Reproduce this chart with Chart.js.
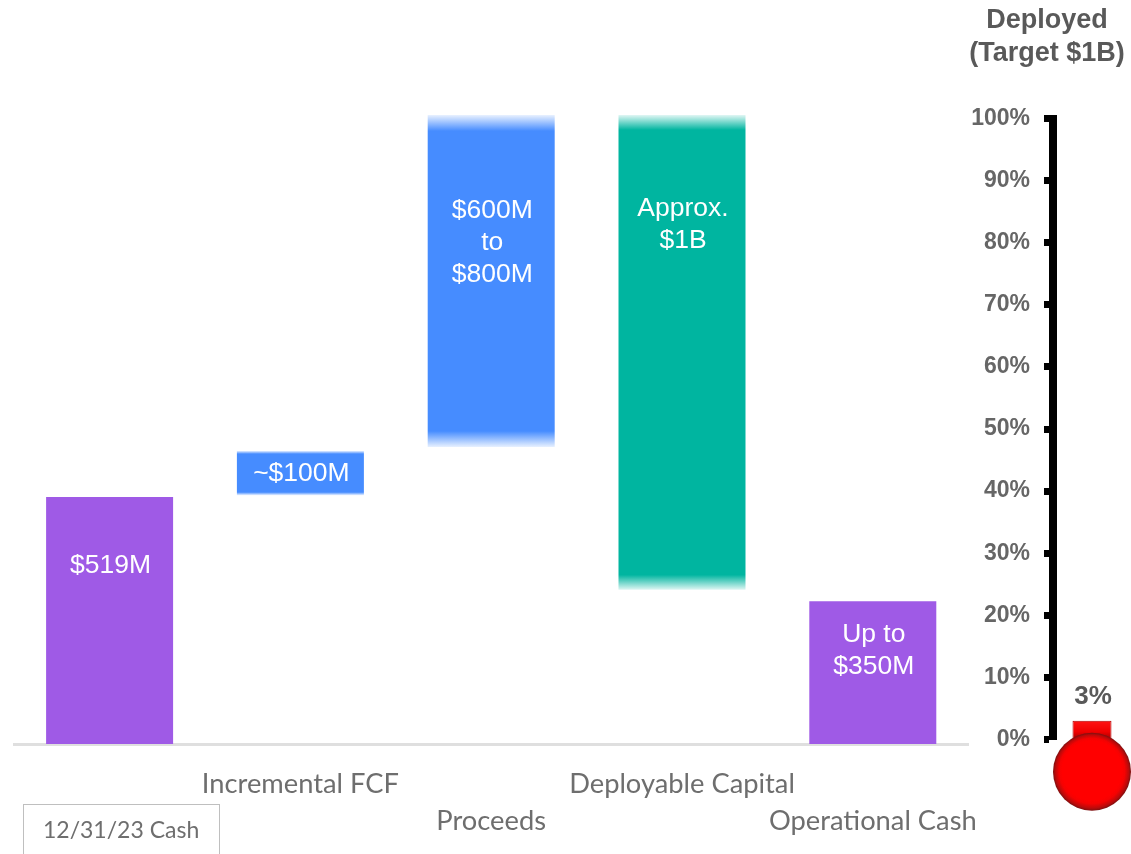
<!DOCTYPE html>
<html>
<head>
<meta charset="utf-8">
<style>
html,body{margin:0;padding:0;background:#fff;width:1131px;height:854px;overflow:hidden}
canvas{position:absolute;top:0}
#main{left:0}
#gauge{left:963px}
#cashBox{position:absolute;left:23px;top:804px;width:195px;height:60px;border:1px solid #bfbfbf;box-sizing:content-box}
</style>
</head>
<body>
<div id="cashBox"></div>
<canvas id="main" width="1131" height="854"></canvas>
<canvas id="gauge" width="168" height="854"></canvas>
<script src="https://cdn.jsdelivr.net/npm/chart.js@4"></script>
<script>
const categories = ['12/31/23 Cash', 'Incremental FCF', 'Proceeds', 'Deployable Capital', 'Operational Cash'];
const barLows = [0, 523, 624, 324, 0];
const barHighs = [519, 616, 1322, 1322, 300];
const barTexts = [['$519M'], ['~$100M'], ['$600M', 'to', '$800M'], ['Approx.', '$1B'], ['Up to', '$350M']];
const gaugeCategories = ['Deployed'];
const deployedPct = [3];
const bulbAnchorPct = [-5.2];
const deployedText = [['3%']];
const gaugeTitle = ['Deployed', '(Target $1B)'];

const barColors = ['#9F5AE6', '#468CFF', '#468CFF', '#00B5A0', '#9F5AE6'];
const fadePx = [0, 3, 16, 15, 0];
const labelDrop = [69, 23, 96, 94, 33];

const axisLabelFont = 'Lato, Carlito, sans-serif';
const arial = '"Liberation Sans", Arial, sans-serif';

function rgba(hex, a) {
  const n = parseInt(hex.slice(1), 16);
  return `rgba(${n >> 16},${(n >> 8) & 255},${n & 255},${a})`;
}

const textPlugin = {
  id: 'barText',
  afterDatasetsDraw(chart, args, opts) {
    const c = chart.ctx;
    const meta = chart.getDatasetMeta(0);
    c.save();
    c.font = opts.font;
    c.fillStyle = opts.color;
    c.textAlign = 'center';
    c.textBaseline = 'middle';
    meta.data.forEach((el, i) => {
      opts.lines[i].forEach((t, k) => {
        c.fillText(t, el.x + 1, el.y + opts.drop[i] + k * 32);
      });
    });
    c.restore();
  }
};

const cashLabelShift = {
  id: 'cashLabelShift',
  beforeDraw(chart) {
    const item = chart.scales.x.getLabelItems()[0];
    if (item && !item.shifted) {
      item.options.translation[0] += 11.5;
      item.shifted = true;
    }
  }
};

new Chart(document.getElementById('main'), {
  type: 'bar',
  plugins: [textPlugin, cashLabelShift],
  data: {
    labels: categories.map((t, i) => i % 2 === 1 ? t : ['', t]),
    datasets: [{
      data: barLows.map((v, i) => [v, barHighs[i]]),
      barPercentage: 0.6656,
      categoryPercentage: 1,
      backgroundColor(ctx) {
        const i = ctx.dataIndex, col = barColors[i], f = fadePx[i];
        if (!f || ctx.type !== 'data') return col;
        const s = ctx.chart.scales.y;
        const top = s.getPixelForValue(barHighs[i]), bot = s.getPixelForValue(barLows[i]);
        const h = bot - top;
        const g = ctx.chart.ctx.createLinearGradient(0, top, 0, bot);
        g.addColorStop(0, rgba(col, 0.12));
        g.addColorStop(f / h, col);
        g.addColorStop(1 - f / h, col);
        g.addColorStop(1, rgba(col, 0.12));
        return g;
      }
    }]
  },
  options: {
    responsive: false,
    animation: false,
    layout: { padding: { left: 14.2, right: 162.8, top: 115, bottom: 0 } },
    plugins: {
      legend: { display: false },
      tooltip: { enabled: false },
      barText: { lines: barTexts, drop: labelDrop, font: '26.5px ' + arial, color: '#ffffff' }
    },
    scales: {
      y: { display: false, min: 0, max: 1322 },
      x: {
        afterFit(s) { s.height = 110; },
        grid: { display: false, drawTicks: false },
        border: { display: true, color: '#dfdfdf', width: 3 },
        ticks: {
          autoSkip: false,
          maxRotation: 0,
          padding: 21.5,
          color: '#6e6e6e',
          font(ctx) {
            return ctx.index === 0
              ? { family: axisLabelFont, size: 23, lineHeight: 43.67 / 23 }
              : { family: axisLabelFont, size: 27.3, lineHeight: 37 / 27.3 };
          }
        }
      }
    }
  }
});

new Chart(document.getElementById('gauge'), {
  type: 'bar',
  data: {
    labels: gaugeCategories,
    datasets: [
      {
        type: 'bar',
        order: 2,
        data: deployedPct,
        barPercentage: 0.5,
        categoryPercentage: 1,
        borderColor: '#b00000',
        borderWidth: 1,
        backgroundColor(ctx) {
          const a = ctx.chart.chartArea;
          if (!a) return '#f00000';
          const g = ctx.chart.ctx.createLinearGradient(0, a.bottom - 19, 0, a.bottom);
          g.addColorStop(0, '#ff1414');
          g.addColorStop(0.6, '#f00000');
          g.addColorStop(1, '#a00000');
          return g;
        }
      },
      {
        type: 'line',
        order: 1,
        data: bulbAnchorPct,
        showLine: false,
        clip: false,
        pointStyle: 'circle',
        pointRadius: 39,
        pointBorderWidth: 0,
        pointBackgroundColor(ctx) {
          const a = ctx.chart.chartArea;
          const s = ctx.chart.scales.y;
          if (!a || !s) return '#f00000';
          const cx = (a.left + a.right) / 2;
          const cy = s.getPixelForValue(bulbAnchorPct[0]);
          const g = ctx.chart.ctx.createRadialGradient(cx, cy - 5, 0, cx, cy, 39);
          g.addColorStop(0, '#ff0000');
          g.addColorStop(0.76, '#ff0000');
          g.addColorStop(0.84, '#f50202');
          g.addColorStop(0.94, '#bb0a0a');
          g.addColorStop(1, '#7a1010');
          return g;
        }
      }
    ]
  },
  plugins: [textPlugin],
  options: {
    responsive: false,
    animation: false,
    layout: { autoPadding: false, padding: { left: 0, right: 0, top: 0, bottom: 114.5 } },
    plugins: {
      legend: { display: false },
      tooltip: { enabled: false },
      title: {
        display: true,
        text: gaugeTitle,
        color: '#595959',
        align: 'center',
        fullSize: true,
        font: { family: arial, size: 27, weight: 'bold', lineHeight: 33 / 27 },
        padding: { top: 4.5, bottom: 48 }
      },
      barText: { lines: deployedText, drop: [-24], font: 'bold 26px ' + arial, color: '#595959' }
    },
    scales: {
      x: { type: 'category', display: false, offset: true },
      y: {
        min: 0,
        max: 100,
        afterFit(s) { s.width = 90; },
        ticks: {
          stepSize: 10,
          padding: 14,
          color: '#666666',
          font: { family: arial, size: 23, weight: 'bold' },
          callback: v => v + '%'
        },
        grid: { drawOnChartArea: false, drawTicks: true, tickLength: 9, tickWidth: 7, tickColor: '#000', color: '#000' },
        border: { display: true, color: '#000', width: 8 }
      }
    }
  }
});
</script>
</body>
</html>
